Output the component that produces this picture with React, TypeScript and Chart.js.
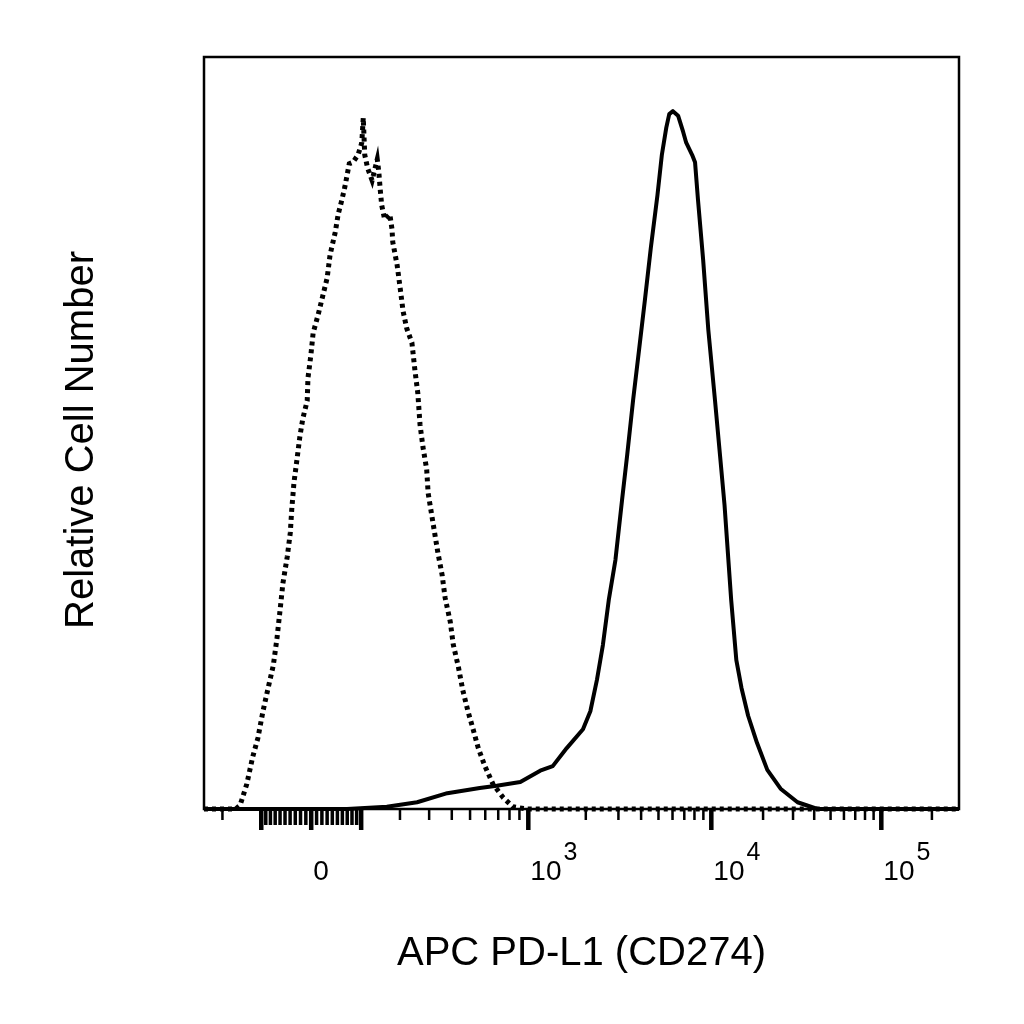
import React, { useEffect, useRef } from 'react';
import { Chart, registerables } from 'chart.js';

Chart.register(...registerables);

const xAxisTitle = 'APC PD-L1 (CD274)';
const yAxisTitle = 'Relative Cell Number';

// Histograms on a 0–1024 display-channel axis; counts as % of full scale
const isotypeChannel = [0, 43, 49, 58, 66, 73, 80, 87, 94, 99, 103, 107, 113, 117, 119, 122, 126, 130, 134, 140, 141, 145, 148, 155, 161, 167, 171, 178, 182, 187, 191, 197, 202, 209, 214, 216, 218, 222, 228, 235, 237, 239, 241, 245, 252, 255, 256, 262, 266, 270, 275, 282, 286, 290, 293, 297, 302, 304, 309, 313, 317, 323, 327, 334, 338, 345, 351, 358, 365, 372, 381, 392, 406, 419, 438, 1024];
const isotypeCount = [0, 0, 0.5, 3.3, 6.9, 9.4, 13.0, 16.1, 19.1, 22.7, 26.3, 30.0, 33.6, 36.7, 39.8, 43.4, 46.4, 49.5, 51.9, 54.3, 57.3, 60.4, 63.3, 65.8, 68.2, 70.6, 73.7, 76.7, 79.1, 81.0, 82.7, 85.8, 86.0, 87.0, 88.6, 91.9, 87.0, 85.2, 83.6, 86.4, 84.8, 82.4, 80.3, 78.4, 79.1, 77.1, 75.4, 72.3, 69.3, 66.2, 63.9, 62.0, 58.4, 55.3, 51.1, 48.1, 45.2, 42.0, 39.0, 36.6, 34.2, 31.1, 28.1, 24.9, 21.9, 18.9, 15.8, 13.0, 10.6, 8.1, 5.7, 3.3, 1.5, 0.3, 0, 0];

const pdl1Channel = [0, 194, 248, 289, 330, 374, 397, 429, 456, 473, 492, 514, 524, 533, 541, 549, 558, 567, 574, 582, 590, 598, 606, 615, 621, 627, 631, 636, 643, 650, 654, 662, 666, 670, 677, 684, 693, 700, 706, 715, 722, 729, 738, 750, 764, 782, 805, 832, 1024];
const pdl1Count = [0, 0, 0.3, 0.9, 2.1, 2.8, 3.1, 3.6, 5.1, 5.7, 8.1, 10.6, 13.0, 17.2, 21.8, 27.8, 33.1, 41.1, 47.1, 54.4, 61.0, 67.7, 74.6, 81.6, 87.0, 90.6, 92.4, 92.8, 92.2, 90.0, 88.6, 87.0, 86.0, 81.0, 73.0, 63.7, 54.4, 46.9, 40.4, 27.8, 19.8, 16.1, 12.4, 8.8, 5.2, 2.7, 0.9, 0, 0];

// Biexponential axis ticks (fluorescence values)
const majorTickValues = [-100, 0, 100, 1000, 10000, 100000];
const mediumTickValues = [-90, -80, -70, -60, -50, -40, -30, -20, -10, 10, 20, 30, 40, 50, 60, 70, 80, 90];
const minorTickValues = [-200, 200, 300, 400, 500, 600, 700, 800, 900, 2000, 3000, 4000, 5000, 6000, 7000, 8000, 9000, 20000, 30000, 40000, 50000, 60000, 70000, 80000, 90000, 200000];
const tickLabelValues = [0, 1000, 10000, 100000];
const tickLabelBase = ['0', '10', '10', '10'];
const tickLabelExp = ['', '3', '4', '5'];

// biex-like display transform parameters
const BIEX = { k: 73.2, c: 170, d: 56, e: 500, min: -260, max: 290000, channels: 1024 };

function biex(v: number): number {
  const a = Math.abs(v);
  const t = BIEX.k * Math.asinh(a / BIEX.c) + BIEX.d * a / (a + BIEX.e);
  return Math.sign(v) * t;
}
function toChannel(v: number): number {
  const t0 = biex(BIEX.min);
  const t1 = biex(BIEX.max);
  return ((biex(v) - t0) / (t1 - t0)) * BIEX.channels;
}

const FONT = '"Liberation Sans", Arial, Helvetica, sans-serif';

const flowAxesPlugin = {
  id: 'flowAxes',
  afterDatasetsDraw(chart: any) {
    const { ctx, chartArea } = chart;
    const { left, right, top, bottom } = chartArea;
    const x = chart.scales.x;
    ctx.save();
    ctx.fillStyle = '#000';
    ctx.strokeStyle = '#000';
    // frame
    ctx.lineWidth = 2.5;
    ctx.strokeRect(left, top, right - left, bottom - top);
    // ticks
    const drawTick = (v: number, len: number, w: number) => {
      const px = x.getPixelForValue(toChannel(v));
      ctx.fillRect(px - w / 2, bottom, w, len);
    };
    minorTickValues.forEach((v) => drawTick(v, 11, 2.5));
    mediumTickValues.forEach((v) => drawTick(v, 16, 3.5));
    majorTickValues.forEach((v) => drawTick(v, 21, 4.5));
    // tick labels
    ctx.textAlign = 'left';
    ctx.textBaseline = 'alphabetic';
    tickLabelValues.forEach((v, i) => {
      const px = x.getPixelForValue(toChannel(v)) + 2;
      ctx.font = `28px ${FONT}`;
      ctx.fillText(tickLabelBase[i], px, bottom + 71);
      if (tickLabelExp[i]) {
        const w = ctx.measureText(tickLabelBase[i]).width;
        ctx.font = `25px ${FONT}`;
        ctx.fillText(tickLabelExp[i], px + w + 2, bottom + 51);
      }
    });
    // axis titles
    ctx.font = `40px ${FONT}`;
    ctx.textAlign = 'center';
    ctx.fillText(xAxisTitle, (left + right) / 2, bottom + 156);
    ctx.save();
    ctx.translate(left - 111, top + 383);
    ctx.rotate(-Math.PI / 2);
    ctx.fillText(yAxisTitle, 0, 0);
    ctx.restore();
    ctx.restore();
  },
};

export default function App() {
  const canvasRef = useRef<HTMLCanvasElement | null>(null);

  useEffect(() => {
    document.body.style.margin = '0';
    const canvas = canvasRef.current;
    if (!canvas) return;
    const chart = new Chart(canvas, {
      type: 'line',
      data: {
        datasets: [
          {
            label: 'Isotype control',
            data: isotypeChannel.map((c, i) => ({ x: c, y: isotypeCount[i] })),
            borderColor: '#000',
            borderWidth: 5,
            borderDash: [4, 4],
            borderCapStyle: 'butt',
            pointRadius: 0,
            tension: 0,
            fill: false,
            clip: false as any,
          },
          {
            label: 'PD-L1',
            data: pdl1Channel.map((c, i) => ({ x: c, y: pdl1Count[i] })),
            borderColor: '#000',
            borderWidth: 4,
            borderJoinStyle: 'round',
            pointRadius: 0,
            tension: 0,
            fill: false,
            clip: false as any,
          },
        ],
      },
      options: {
        animation: false,
        responsive: false,
        devicePixelRatio: 1,
        layout: { padding: { left: 204, top: 57, right: 65, bottom: 215 } },
        plugins: { legend: { display: false }, tooltip: { enabled: false }, title: { display: false } },
        scales: {
          x: { type: 'linear', min: 0, max: BIEX.channels, display: false },
          y: { type: 'linear', min: 0, max: 100, display: false },
        },
      } as any,
      plugins: [flowAxesPlugin],
    });
    return () => chart.destroy();
  }, []);

  return (
    <div style={{ width: 1024, height: 1024, background: '#fff' }}>
      <canvas ref={canvasRef} width={1024} height={1024} style={{ display: 'block', width: 1024, height: 1024 }} />
    </div>
  );
}
